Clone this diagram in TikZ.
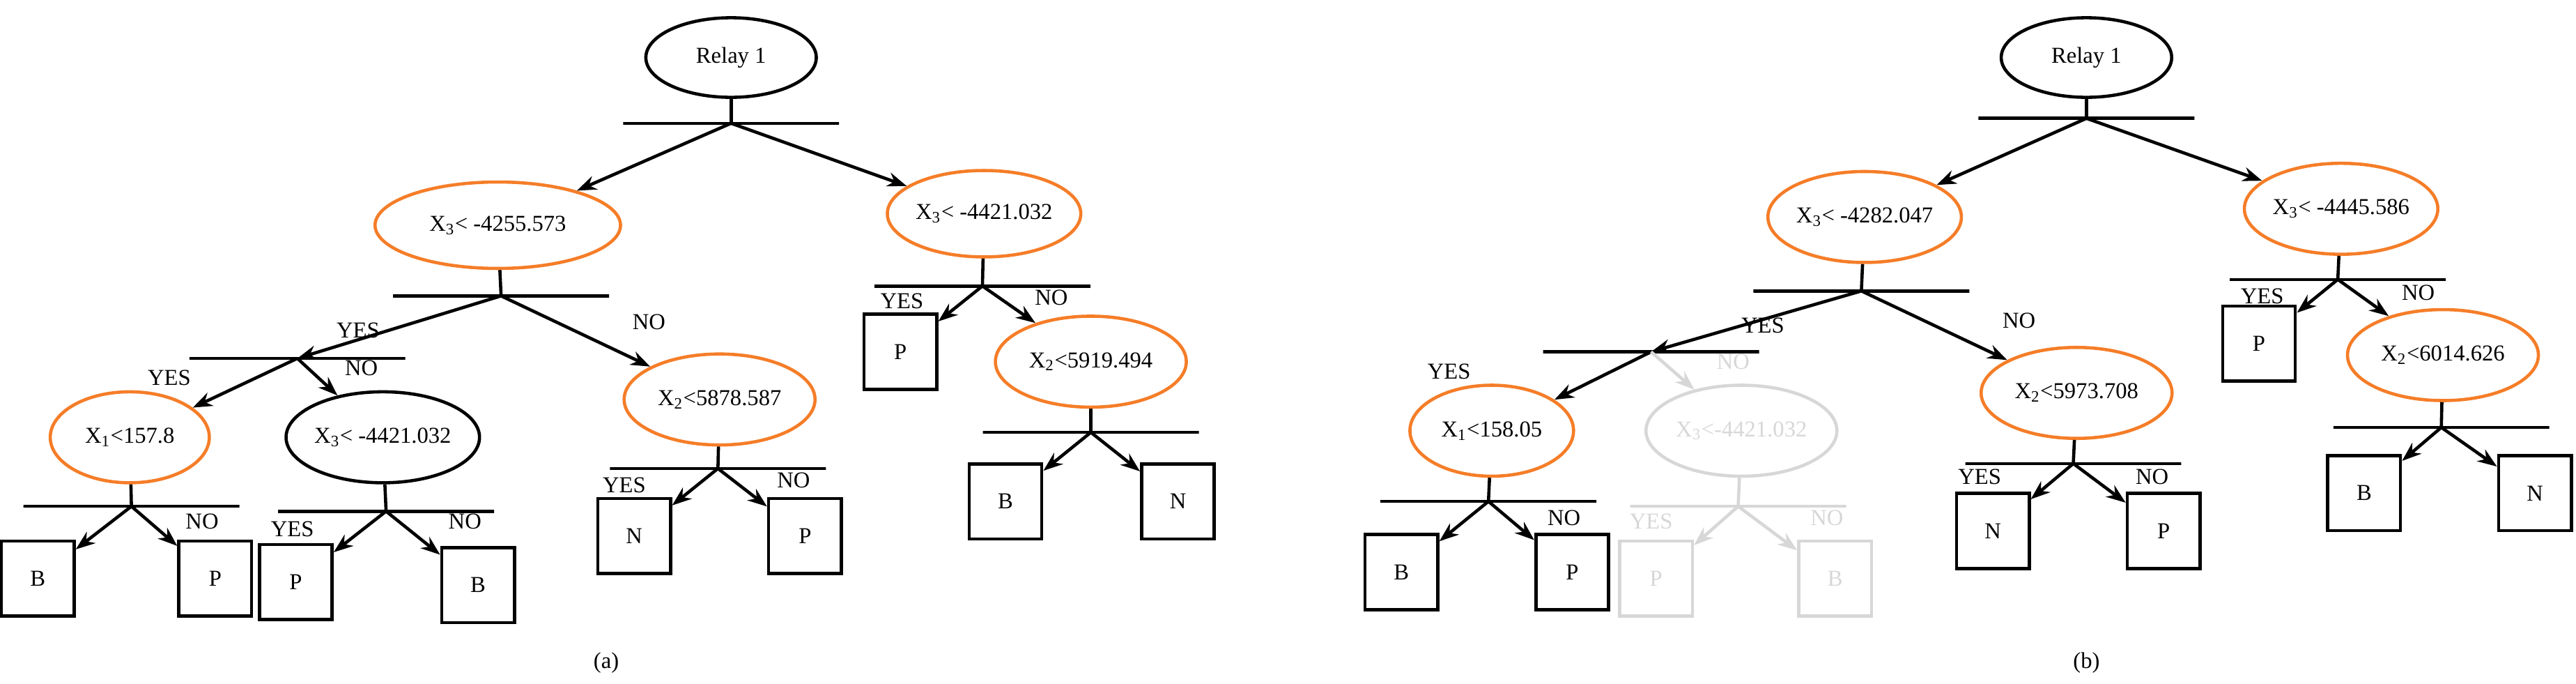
\documentclass[tikz,border=0pt]{standalone}
\usepackage{fontspec}
\setmainfont{Liberation Serif}
\usetikzlibrary{arrows.meta,shapes.geometric}
\definecolor{treeOrange}{RGB}{245,125,40}
\definecolor{treeGrey}{RGB}{215,215,215}
\tikzset{>={Stealth[length=3mm,width=2.2mm]}}

\begin{document}
\begin{tikzpicture}[
    x = 0.0254cm, y = -0.0254cm,
    line width = 1.4pt,
    font = \fontsize{10}{12}\selectfont,
    test/.style = {ellipse, draw = treeOrange, minimum width = 84, minimum height = 40, inner sep = 0pt},
    root/.style = {ellipse, draw, minimum width = 75, minimum height = 35, inner sep = 0pt},
    leaf/.style = {rectangle, draw, minimum width = 32, minimum height = 33, inner sep = 0pt},
    bar/.style = {rectangle, draw, minimum width = 95, minimum height = 0pt, inner sep = 0pt},
    faded/.style = {draw = treeGrey, text = treeGrey}
  ]
    \useasboundingbox (0, 0) rectangle (1568, 416);
    % (a)
    \node[root] (a_relay) at (445, 35) {Relay 1};
    \node[bar] (a_split) at (445, 75) {};
    \node[test, minimum width = 108, minimum height = 38] (a_x3_left) at (303, 137) {X\textsubscript{3}< -4255.573};
    \node[test, minimum height = 38] (a_x3_right) at (599, 130) {X\textsubscript{3}< -4421.032};
    \node[bar] (a_split_left) at (305, 180) {};
    \node[bar] (a_split_mid) at (181, 218) {};
    \node[test, minimum width = 70] (a_x1) at (79, 266) {X\textsubscript{1}<157.8};
    \node[test, draw = black] (a_x3_inner) at (233, 266) {X\textsubscript{3}< -4421.032};
    \node[test] (a_x2_left) at (438, 243) {X\textsubscript{2}<5878.587};
    \node[bar] (a_split_x1) at (80, 308) {};
    \node[leaf] (a_b1) at (23, 352) {B};
    \node[leaf] (a_p1) at (131, 352) {P};
    \node[bar] (a_split_inner) at (235, 311) {};
    \node[leaf] (a_p2) at (180, 354) {P};
    \node[leaf] (a_b2) at (291, 356) {B};
    \node[bar] (a_split_x2) at (437, 285) {};
    \node[leaf] (a_n1) at (386, 326) {N};
    \node[leaf] (a_p3) at (490, 326) {P};
    \node[bar] (a_split_right) at (598, 174) {};
    \node[leaf] (a_p4) at (548, 214) {P};
    \node[test] (a_x2_right) at (664, 220) {X\textsubscript{2}<5919.494};
    \node[bar] (a_split_x2r) at (664, 263) {};
    \node[leaf] (a_b3) at (612, 305) {B};
    \node[leaf] (a_n2) at (717, 305) {N};
    \node (a_caption) at (369, 403) {(a)};
    \draw (a_relay) -- (a_split.center);
    \draw[->] (a_split.center) -- (a_x3_left);
    \draw[->] (a_split.center) -- (a_x3_right);
    \draw (a_x3_left) -- (a_split_left.center);
    \draw[->] (a_split_left.center) -- (a_split_mid.center);
    \draw[->] (a_split_left.center) -- (a_x2_left);
    \draw[->] (a_split_mid.center) -- (a_x1);
    \draw[->] (a_split_mid.center) -- (a_x3_inner);
    \draw (a_x1) -- (a_split_x1.center);
    \draw[->] (a_split_x1.center) -- (a_b1);
    \draw[->] (a_split_x1.center) -- (a_p1);
    \draw (a_x3_inner) -- (a_split_inner.center);
    \draw[->] (a_split_inner.center) -- (a_p2);
    \draw[->] (a_split_inner.center) -- (a_b2);
    \draw (a_x2_left) -- (a_split_x2.center);
    \draw[->] (a_split_x2.center) -- (a_n1);
    \draw[->] (a_split_x2.center) -- (a_p3);
    \draw (a_x3_right) -- (a_split_right.center);
    \draw[->] (a_split_right.center) -- (a_p4);
    \draw[->] (a_split_right.center) -- (a_x2_right);
    \draw (a_x2_right) -- (a_split_x2r.center);
    \draw[->] (a_split_x2r.center) -- (a_b3);
    \draw[->] (a_split_x2r.center) -- (a_n2);
    \node (a_yes1) at (218, 201) {YES};
    \node (a_no1) at (395, 196) {NO};
    \node (a_yes2) at (103, 230) {YES};
    \node (a_no2) at (220, 224) {NO};
    \node (a_no3) at (123, 317) {NO};
    \node (a_yes4) at (178, 322) {YES};
    \node (a_no4) at (283, 317) {NO};
    \node (a_yes5) at (380, 295) {YES};
    \node (a_no5) at (483, 292) {NO};
    \node (a_yes6) at (549, 183) {YES};
    \node (a_no6) at (640, 181) {NO};
    % (b)
    \node[root] (b_relay) at (1270, 35) {Relay 1};
    \node[bar] (b_split) at (1270, 72) {};
    \node[test] (b_x3_left) at (1135, 132) {X\textsubscript{3}< -4282.047};
    \node[test] (b_x3_right) at (1425, 127) {X\textsubscript{3}< -4445.586};
    \node[bar] (b_split_left) at (1133, 177) {};
    \node[bar] (b_split_mid) at (1005, 214) {};
    \node[test, minimum width = 72] (b_x1) at (908, 262) {X\textsubscript{1}<158.05};
    \node[test, faded] (b_x3_inner) at (1060, 262) {X\textsubscript{3}<-4421.032};
    \node[test] (b_x2_left) at (1264, 239) {X\textsubscript{2}<5973.708};
    \node[bar] (b_split_x1) at (906, 305) {};
    \node[leaf] (b_b1) at (853, 348) {B};
    \node[leaf] (b_p1) at (957, 348) {P};
    \node[bar, faded] (b_split_inner) at (1058, 308) {};
    \node[leaf, faded] (b_p2) at (1008, 352) {P};
    \node[leaf, faded] (b_b2) at (1117, 352) {B};
    \node[bar] (b_split_x2) at (1262, 282) {};
    \node[leaf] (b_n1) at (1213, 323) {N};
    \node[leaf] (b_p3) at (1317, 323) {P};
    \node[bar] (b_split_right) at (1423, 170) {};
    \node[leaf] (b_p4) at (1375, 209) {P};
    \node[test] (b_x2_right) at (1487, 216) {X\textsubscript{2}<6014.626};
    \node[bar] (b_split_x2r) at (1486, 260) {};
    \node[leaf] (b_b3) at (1439, 300) {B};
    \node[leaf] (b_n2) at (1543, 300) {N};
    \node (b_caption) at (1270, 403) {(b)};
    \draw (b_relay) -- (b_split.center);
    \draw[->] (b_split.center) -- (b_x3_left);
    \draw[->] (b_split.center) -- (b_x3_right);
    \draw (b_x3_left) -- (b_split_left.center);
    \draw[->] (b_split_left.center) -- (b_split_mid.center);
    \draw[->] (b_split_left.center) -- (b_x2_left);
    \draw[->] (b_split_mid.center) -- (b_x1);
    \draw[->, treeGrey] (b_split_mid.center) -- (b_x3_inner);
    \draw (b_x1) -- (b_split_x1.center);
    \draw[->] (b_split_x1.center) -- (b_b1);
    \draw[->] (b_split_x1.center) -- (b_p1);
    \draw[treeGrey] (b_x3_inner) -- (b_split_inner.center);
    \draw[->, treeGrey] (b_split_inner.center) -- (b_p2);
    \draw[->, treeGrey] (b_split_inner.center) -- (b_b2);
    \draw (b_x2_left) -- (b_split_x2.center);
    \draw[->] (b_split_x2.center) -- (b_n1);
    \draw[->] (b_split_x2.center) -- (b_p3);
    \draw (b_x3_right) -- (b_split_right.center);
    \draw[->] (b_split_right.center) -- (b_p4);
    \draw[->] (b_split_right.center) -- (b_x2_right);
    \draw (b_x2_right) -- (b_split_x2r.center);
    \draw[->] (b_split_x2r.center) -- (b_b3);
    \draw[->] (b_split_x2r.center) -- (b_n2);
    \node (b_yes1) at (1073, 198) {YES};
    \node (b_no1) at (1229, 195) {NO};
    \node (b_yes2) at (882, 226) {YES};
    \node[text = treeGrey] (b_no2) at (1055, 220) {NO};
    \node (b_no3) at (952, 315) {NO};
    \node[text = treeGrey] (b_yes4) at (1005, 317) {YES};
    \node[text = treeGrey] (b_no4) at (1112, 315) {NO};
    \node (b_yes5) at (1205, 290) {YES};
    \node (b_no5) at (1310, 290) {NO};
    \node (b_yes6) at (1377, 180) {YES};
    \node (b_no6) at (1472, 178) {NO};
  \end{tikzpicture}
\end{document}
